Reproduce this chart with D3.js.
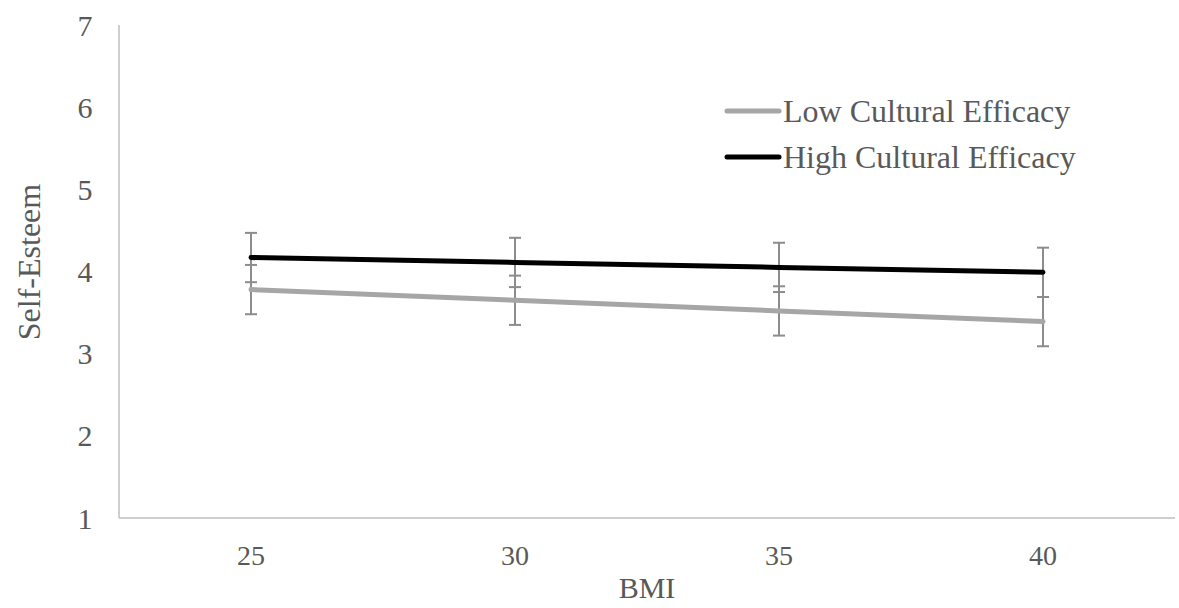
<!DOCTYPE html>
<html><head><meta charset="utf-8">
<script src="https://cdn.jsdelivr.net/npm/d3@7"></script>
<style>body{margin:0;background:#fff}svg{display:block}</style>
</head><body><svg id="c" width="1179" height="608"></svg>
<script>
const categories = ["25","30","35","40"];
const lowValues  = [3.78, 3.65, 3.52, 3.39];
const highValues = [4.17, 4.11, 4.05, 3.99];
const lowErrors  = [0.30, 0.30, 0.30, 0.30];
const highErrors = [0.30, 0.30, 0.30, 0.30];
const yTicks = [1,2,3,4,5,6,7];
const seriesNames = ["Low Cultural Efficacy","High Cultural Efficacy"];

(function(){
const svg = d3.select("#c");
const mLeft = 119, mRight = 1175, mTop = 25, mBottom = 518;
const x = d3.scalePoint().domain(categories).range([mLeft, mRight]).padding(0.5);
const y = d3.scaleLinear().domain([1,7]).range([mBottom, mTop]);
const font = "'Liberation Serif','Times New Roman',serif";
const txt = "#595959", axisC = "#bfbfbf", errC = "#8c8c8c";

svg.append("line").attr("x1",mLeft).attr("x2",mLeft).attr("y1",y(7)).attr("y2",y(1)).attr("stroke",axisC).attr("stroke-width",1.5);
svg.append("line").attr("x1",mLeft).attr("x2",mRight).attr("y1",y(1)).attr("y2",y(1)).attr("stroke",axisC).attr("stroke-width",1.5);
svg.selectAll(".yt").data(yTicks).join("text").attr("x",85).attr("y",d=>y(d)).attr("dy","0.35em")
  .attr("text-anchor","middle").attr("font-family",font).attr("font-size",30).attr("fill",txt).text(d=>d);
svg.selectAll(".xt").data(categories).join("text").attr("x",d=>x(d)).attr("y",565)
  .attr("text-anchor","middle").attr("font-family",font).attr("font-size",28).attr("fill",txt).text(d=>d);
svg.append("text").attr("x",(mLeft+mRight)/2).attr("y",598).attr("text-anchor","middle")
  .attr("font-family",font).attr("font-size",30).attr("fill",txt).text("BMI");
svg.append("text").attr("transform",`translate(40,262) rotate(-90)`).attr("text-anchor","middle")
  .attr("font-family",font).attr("font-size",32).attr("fill",txt).text("Self-Esteem");

const series = [
  {vals: lowValues, errs: lowErrors, color:"#a6a6a6"},
  {vals: highValues, errs: highErrors, color:"#000000"}
];
const line = d3.line().x((d,i)=>x(categories[i])).y(d=>y(d));
series.forEach(s=>{
  const g = svg.append("g").attr("stroke",errC).attr("stroke-width",2);
  categories.forEach((c,i)=>{
    const cx = x(c), y1 = y(s.vals[i]+s.errs[i]), y2 = y(s.vals[i]-s.errs[i]);
    g.append("line").attr("x1",cx).attr("x2",cx).attr("y1",y1).attr("y2",y2);
    g.append("line").attr("x1",cx-6).attr("x2",cx+6).attr("y1",y1).attr("y2",y1);
    g.append("line").attr("x1",cx-6).attr("x2",cx+6).attr("y1",y2).attr("y2",y2);
  });
});
series.forEach(s=>{
  svg.append("path").datum(s.vals).attr("d",line).attr("fill","none").attr("stroke",s.color)
    .attr("stroke-width",5).attr("stroke-linecap","round");
});
seriesNames.forEach((n,i)=>{
  const ly = 111 + i*46;
  svg.append("line").attr("x1",727).attr("x2",779).attr("y1",ly).attr("y2",ly)
    .attr("stroke",series[i].color).attr("stroke-width",5).attr("stroke-linecap","round");
  svg.append("text").attr("x",783).attr("y",ly).attr("dy","0.35em").attr("font-family",font)
    .attr("font-size",32).attr("fill",txt).text(n);
});
})();
</script></body></html>
